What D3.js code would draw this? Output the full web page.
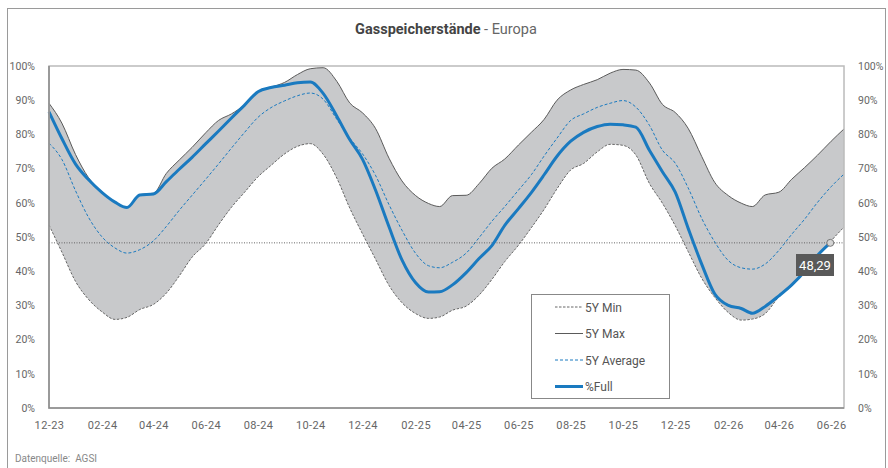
<!DOCTYPE html>
<html>
<head>
<meta charset="utf-8">
<script src="https://cdn.jsdelivr.net/npm/d3@7"></script>
<style>
  body { margin: 0; background: #fff; }
  svg { display: block; font-family: Roboto, "Noto Sans", sans-serif; }
</style>
</head>
<body>
<svg id="chart" width="888" height="468"></svg>
<script>
// semi-monthly sample dates for the 5Y band
var bandDates = [
  "2023-12-01","2023-12-16",
  "2024-01-01","2024-01-16","2024-02-01","2024-02-16","2024-03-01","2024-03-16",
  "2024-04-01","2024-04-16","2024-05-01","2024-05-16","2024-06-01","2024-06-16",
  "2024-07-01","2024-07-16","2024-08-01","2024-08-16","2024-09-01","2024-09-16",
  "2024-10-01","2024-10-16","2024-11-01","2024-11-16","2024-12-01","2024-12-16",
  "2025-01-01","2025-01-16","2025-02-01","2025-02-16","2025-03-01","2025-03-16",
  "2025-04-01","2025-04-16","2025-05-01","2025-05-16","2025-06-01","2025-06-16",
  "2025-07-01","2025-07-16","2025-08-01","2025-08-16","2025-09-01","2025-09-16",
  "2025-10-01","2025-10-16","2025-11-01","2025-11-16","2025-12-01","2025-12-16",
  "2026-01-01","2026-01-16","2026-02-01","2026-02-16","2026-03-01","2026-03-16",
  "2026-04-01","2026-04-16","2026-05-01","2026-05-16","2026-06-01","2026-06-16"
];
var maxVals = [
  89.1, 83.3,
  74.1, 67.4, 63.2, 60.3, 58.7, 62.4, 62.8, 68.6, 72.5, 76.2, 80.5, 84.1,
  86.0, 88.6, 92.6, 93.8, 95.2, 97.5, 99.2, 99.5, 95.5, 89.2, 86.3, 81.8,
  73.0, 66.4, 62.1, 59.8, 58.9, 62.1, 62.2, 65.6, 70.1, 72.8, 76.9, 80.6,
  84.4, 90.0, 93.0, 94.6, 96.0, 97.9, 99.0, 98.8, 95.0, 88.8, 86.4, 81.8,
  73.5, 66.0, 62.1, 59.9, 58.9, 62.3, 63.1, 66.9, 70.3, 73.9, 78.0, 81.6
];
var minVals = [
  53.5, 45.6,
  37.0, 31.8, 28.1, 25.9, 26.5, 28.8, 30.3, 33.6, 38.6, 44.1, 48.1, 53.6,
  58.7, 63.0, 67.6, 70.9, 74.3, 76.5, 77.3, 74.2, 67.2, 58.5, 50.9, 43.6,
  35.8, 30.8, 27.6, 26.2, 26.6, 28.6, 29.8, 33.0, 37.6, 42.8, 47.6, 52.7,
  58.1, 64.1, 69.6, 71.5, 74.9, 77.1, 76.8, 74.0, 65.6, 59.9, 53.3, 45.8,
  37.9, 32.4, 27.9, 25.7, 26.0, 27.6, 32.5, 35.7, 39.6, 44.3, 48.9, 52.9
];
var avgVals = [
  77.4, 72.7,
  63.5, 55.8, 50.0, 46.8, 45.3, 46.3, 48.9, 53.1, 57.8, 62.2, 66.9, 71.4,
  76.0, 80.5, 85.0, 87.8, 89.8, 91.3, 92.1, 90.3, 84.4, 78.9, 74.3, 68.1,
  59.4, 52.0, 45.2, 41.6, 41.0, 42.6, 45.3, 49.8, 54.6, 58.9, 63.7, 68.2,
  73.7, 78.9, 84.1, 86.0, 87.9, 89.1, 89.9, 88.0, 82.6, 75.4, 71.6, 64.4,
  55.4, 48.6, 43.1, 41.0, 40.6, 42.1, 46.1, 50.8, 55.2, 60.1, 64.7, 68.4
];
// %Full runs to the end of May 2026
var fullDates = bandDates.slice(0, 60).concat(["2026-05-31"]);
var fullVals = [
  86.6, 78.8,
  71.3, 66.8, 63.0, 60.2, 58.6, 62.3, 62.6, 66.2, 69.8, 73.3, 77.3, 81.0,
  84.8, 88.5, 92.5, 93.7, 94.4, 95.1, 95.3, 92.0, 85.3, 78.5, 72.7, 63.8,
  52.9, 43.3, 36.6, 33.9, 34.0, 36.0, 39.6, 43.7, 47.5, 53.4, 58.3, 63.0,
  68.2, 73.6, 78.0, 80.6, 82.3, 83.0, 82.8, 82.1, 75.3, 69.1, 63.1, 52.6,
  42.0, 33.4, 30.0, 29.1, 27.7, 29.7, 32.8, 36.0, 39.9, 44.6, 48.29
];
var xTicks = ["2023-12-01","2024-02-01","2024-04-01","2024-06-01","2024-08-01","2024-10-01",
  "2024-12-01","2025-02-01","2025-04-01","2025-06-01","2025-08-01","2025-10-01",
  "2025-12-01","2026-02-01","2026-04-01","2026-06-01"];
var yTicks = [0, 10, 20, 30, 40, 50, 60, 70, 80, 90, 100];
var legendItems = ["5Y Min", "5Y Max", "5Y Average", "%Full"];
var lastLabel = "48,29";

var parse = d3.timeParse("%Y-%m-%d");
var blue = "#1a7ac0";

var svg = d3.select("#chart");
var plotL = 49, plotR = 844, plotT = 66, plotB = 408;

var x = d3.scaleTime()
  .domain([parse("2023-12-01"), parse("2026-06-16")])
  .range([plotL, plotR]);
var y = d3.scaleLinear().domain([0, 100]).range([plotB, plotT]);

var band = bandDates.map(function(d, i) {
  return {date: parse(d), min: minVals[i], max: maxVals[i], avg: avgVals[i]};
});
var full = fullDates.map(function(d, i) { return {date: parse(d), v: fullVals[i]}; });

// outer frame (open at the bottom)
svg.append("rect")
  .attr("x", 7.5).attr("y", 8.5).attr("width", 878).attr("height", 480)
  .attr("fill", "none").attr("stroke", "#9a9a9a");

// title
var title = svg.append("text")
  .attr("x", 446).attr("y", 34).attr("text-anchor", "middle")
  .style("font-size", "14.5px");
title.append("tspan").attr("font-weight", "bold").attr("fill", "#444").text("Gasspeicherstände");
title.append("tspan").attr("fill", "#666").text(" - Europa");

var curve = d3.curveMonotoneX;

svg.append("path")
  .datum(band)
  .attr("fill", "#c8c9cb")
  .attr("d", d3.area().curve(curve)
    .x(function(d) { return x(d.date); })
    .y0(function(d) { return y(d.min); })
    .y1(function(d) { return y(d.max); }));

function line(key) {
  return d3.line().curve(curve)
    .x(function(d) { return x(d.date); })
    .y(function(d) { return y(d[key]); });
}

svg.append("path").datum(band)
  .attr("fill", "none").attr("stroke", blue).attr("stroke-width", 1)
  .attr("stroke-dasharray", "3,2").attr("d", line("avg"));
svg.append("path").datum(band)
  .attr("fill", "none").attr("stroke", "#666").attr("stroke-width", 1)
  .attr("stroke-dasharray", "2.5,1.5").attr("d", line("min"));
svg.append("path").datum(band)
  .attr("fill", "none").attr("stroke", "#5a5a5a").attr("stroke-width", 1)
  .attr("d", line("max"));

// dotted line at the last value
var lastV = fullVals[fullVals.length - 1];
svg.append("line")
  .attr("x1", plotL).attr("x2", plotR)
  .attr("y1", y(lastV)).attr("y2", y(lastV))
  .attr("stroke", "#666").attr("stroke-width", 1).attr("stroke-dasharray", "1,1.5");

svg.append("path").datum(full)
  .attr("fill", "none").attr("stroke", blue).attr("stroke-width", 3)
  .attr("stroke-linejoin", "round").attr("d", line("v"));

// plot frame
svg.append("rect")
  .attr("x", plotL).attr("y", plotT).attr("width", plotR - plotL).attr("height", plotB - plotT)
  .attr("fill", "none").attr("stroke", "#bbb").attr("stroke-width", 1.5);
svg.append("path")
  .attr("d", "M" + plotL + "," + plotT + "V" + plotB + "H" + plotR)
  .attr("fill", "none").attr("stroke", "#8a8a8a").attr("stroke-width", 1.5);

// y axes, both sides
var pct = function(d) { return d + "%"; };
var yAxisL = svg.append("g").attr("transform", "translate(" + (plotL - 14) + ",0)")
  .call(d3.axisLeft(y).tickValues(yTicks).tickSize(0).tickFormat(pct));
var yAxisR = svg.append("g").attr("transform", "translate(" + (plotR + 14) + ",0)")
  .call(d3.axisRight(y).tickValues(yTicks).tickSize(0).tickFormat(pct));
[yAxisL, yAxisR].forEach(function(g) {
  g.select(".domain").remove();
  g.selectAll("text").attr("x", 0).attr("fill", "#666")
    .style("font-size", "10.5px").style("font-family", "Roboto, sans-serif");
});

var fmt = d3.timeFormat("%m-%y");
var xAxis = svg.append("g").attr("transform", "translate(0," + (plotB + 10) + ")")
  .call(d3.axisBottom(x).tickValues(xTicks.map(parse)).tickSize(0).tickFormat(fmt));
xAxis.select(".domain").remove();
xAxis.selectAll("text").attr("fill", "#666").style("font-size", "11px")
  .style("font-family", "Roboto, sans-serif").style("letter-spacing", "0.4px");

// end marker and value label
var lastD = full[full.length - 1];
svg.append("circle")
  .attr("cx", x(lastD.date)).attr("cy", y(lastD.v)).attr("r", 3.5)
  .attr("fill", "#d4d4d4").attr("stroke", "#777").attr("stroke-width", 1);
svg.append("rect")
  .attr("x", 796).attr("y", 254).attr("width", 38).attr("height", 22)
  .attr("fill", "#595959");
svg.append("text")
  .attr("x", 815).attr("y", 269.5).attr("text-anchor", "middle")
  .attr("fill", "#fff").style("font-size", "13px").text(lastLabel);

// legend
var lg = svg.append("g");
lg.append("rect")
  .attr("x", 531.5).attr("y", 294.5).attr("width", 138).attr("height", 104)
  .attr("fill", "#fff").attr("stroke", "#888");
var styles = [
  {stroke: "#666", w: 1, dash: "2.5,1.5"},
  {stroke: "#5a5a5a", w: 1, dash: null},
  {stroke: blue, w: 1, dash: "3,2"},
  {stroke: blue, w: 3, dash: null}
];
legendItems.forEach(function(name, i) {
  var yy = 307 + i * 26.5;
  lg.append("line")
    .attr("x1", 555).attr("x2", 583).attr("y1", yy).attr("y2", yy)
    .attr("stroke", styles[i].stroke).attr("stroke-width", styles[i].w)
    .attr("stroke-dasharray", styles[i].dash);
  lg.append("text")
    .attr("x", 585).attr("y", yy + 4.5)
    .attr("fill", "#555").style("font-size", "12px").text(name);
});

svg.append("text")
  .attr("x", 15).attr("y", 462)
  .attr("fill", "#888").style("font-size", "10px")
  .attr("xml:space", "preserve")
  .text("Datenquelle:  AGSI");
</script>
</body>
</html>
